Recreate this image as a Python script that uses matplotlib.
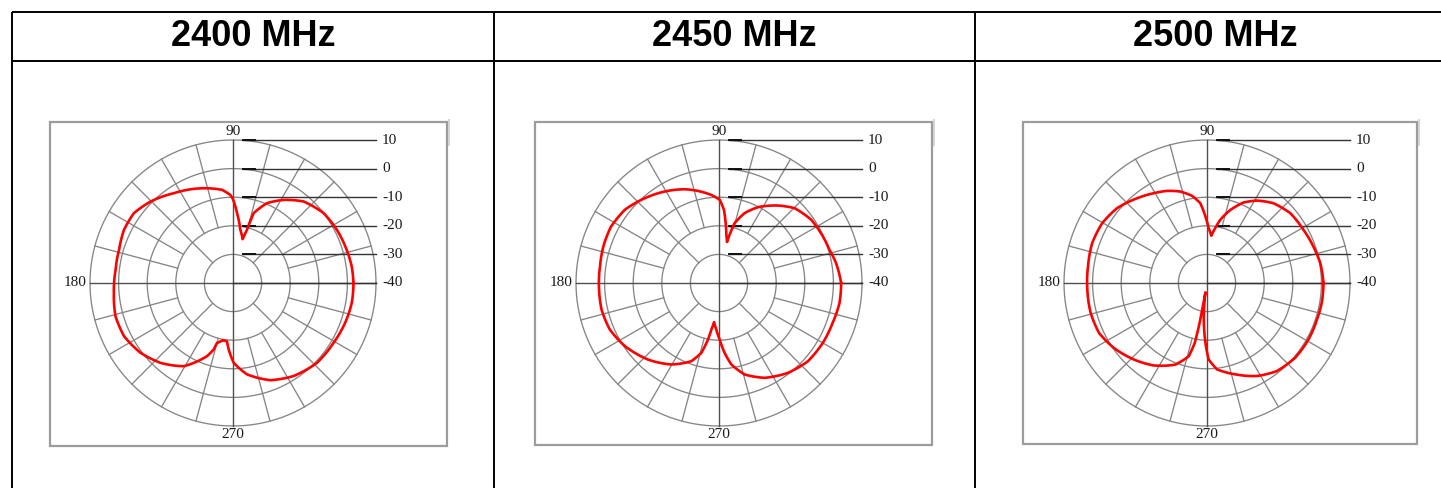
import matplotlib
matplotlib.use('Agg')
import matplotlib.pyplot as plt
import matplotlib.patches as patches
import numpy as np

W, H = 1441, 488

# column headers
freqs = ['2400 MHz', '2450 MHz', '2500 MHz']

# radiation pattern: angle (deg) / gain (dB)
ang_2400 = [0, 8.0, 16.3, 27.1, 37.7, 49.1, 58.7, 67.0, 73.5, 75.3, 77.6, 82.2, 86.7, 90.0,
            91.7, 96.7, 109.0, 123.4, 135.3, 144.8, 154.0, 163.7, 173.5, 184.8, 195.8, 206.0,
            217.1, 227.8, 239.4, 250.5, 253.8, 255.0, 260.1, 264.1, 266.3, 270.5, 278.7,
            291.0, 303.0, 316.4, 329.2, 340.4, 350.5]
gain_2400 = [2.1, 1.9, 1.4, 0.8, 0.0, -2.3, -6.0, -9.7, -14.5, -20.8, -24.3, -21.2, -15.5, -10.7,
             -9.2, -7.2, -5.0, -2.4, 0.5, 2.4, 2.4, 1.5, 1.3, 1.8, 2.7, 2.4,
             0.5, -2.3, -6.2, -12.9, -15.8, -18.3, -19.7, -19.5, -16.7, -12.1, -7.7,
             -3.6, -1.2, 0.5, 0.9, 1.6, 2.1]

ang_2450 = [0, 9.7, 16.8, 24.2, 34.4, 44.7, 52.8, 62.8, 69.9, 75.4, 77.6, 79.0, 81.4, 83.7,
            86.1, 89.5, 95.0, 102.8, 110.1, 120.7, 131.2, 142.1, 152.6, 162.5, 172.0, 183.2,
            192.8, 203.1, 213.9, 227.2, 239.7, 250.5, 255.8, 259.0, 260.7, 262.8, 266.7,
            270.7, 274.6, 278.6, 285.6, 295.7, 307.5, 318.6, 330.0, 340.7, 350.6]
gain_2450 = [2.7, 1.5, 0.3, -0.2, -0.9, -2.8, -6.0, -10.2, -14.0, -18.4, -22.7, -25.4, -22.9, -18.9,
             -14.4, -10.9, -9.1, -7.0, -5.1, -2.8, -0.6, 1.7, 2.6, 2.4, 2.0, 2.0,
             2.1, 1.5, -0.4, -3.5, -7.0, -11.0, -14.8, -19.9, -23.5, -26.2, -23.7,
             -20.2, -15.5, -11.2, -6.8, -3.2, -0.4, 1.4, 1.9, 2.1, 2.7]

ang_2500 = [0, 10.0, 19.0, 28.9, 40.0, 50.2, 58.8, 65.6, 72.3, 78.1, 82.2, 84.8, 88.3, 91.4,
            94.8, 99.7, 106.2, 113.4, 120.7, 129.5, 140.2, 150.3, 160.8, 172.0, 183.2, 194.4,
            204.8, 214.9, 226.3, 237.2, 248.8, 256.0, 258.5, 259.5, 260.0, 260.5, 262.5,
            265.5, 268.5, 271.2, 276.6, 288.1, 298.2, 308.4, 319.7, 330.9, 341.6, 350.1]
gain_2500 = [0.7, 0.2, -0.7, -1.5, -2.0, -3.7, -6.3, -9.1, -13.2, -17.4, -21.2, -23.4, -20.8, -16.7,
             -12.0, -9.1, -6.7, -4.9, -3.5, -1.6, 0.9, 2.2, 2.5, 2.0, 1.9, 2.0,
             1.6, -0.3, -3.0, -5.7, -9.4, -13.6, -18.7, -26.0, -33.0, -36.7, -33.0,
             -26.0, -19.1, -13.3, -9.6, -6.3, -3.1, -0.7, 0.4, 0.6, 0.5, 0.7]

rings = [10, 0, -10, -20, -30]
ring_labels = ['10', '0', '-10', '-20', '-30', '-40']
angle_labels = ['90', '180', '270']

patterns = [(ang_2400, gain_2400), (ang_2450, gain_2450), (ang_2500, gain_2500)]

# layout in pixels
col_x = [12, 494, 975, 1456]
centers_x = [233, 719, 1207]
center_y = 283
R = 143
boxes = [(50, 122, 447, 446), (535, 122, 932, 445), (1023, 122, 1417, 444)]

grid_c = '#858585'
axis_c = '#505050'
lab_font = 'Liberation Serif'


def setting_polar(ax):
    rmin, rmax = -40, 10
    ax.set_ylim(rmin, rmax)
    ax.axis('off')
    t = np.linspace(0, 2 * np.pi, 721)
    for r in rings:
        ax.plot(t, np.full_like(t, r), color=grid_c, lw=0.95, clip_on=False)
    for deg in range(15, 360, 15):
        if deg % 90 == 0:
            continue
        th = np.radians(deg)
        r0 = -30 if deg % 45 == 0 else -20
        ax.plot([th, th], [r0, rmax], color=grid_c, lw=0.95, clip_on=False)
    for deg in [0, 90, 180, 270]:
        th = np.radians(deg)
        ax.plot([th, th], [rmin, rmax], color=axis_c, lw=1.0, clip_on=False)

    # leader lines and dB labels on the right
    px = 1.0 / (2 * R)
    for v, lab in zip(rings + [-40], ring_labels):
        y = 0.5 + 0.5 * (v - rmin) / (rmax - rmin)
        if v != -40:
            ax.plot([0.5 + 10 * px, 1.0], [y, y], color='#333333', lw=1.0,
                    transform=ax.transAxes, clip_on=False)
            ax.plot([0.5 + 10 * px, 0.5 + 22 * px], [y, y], color='#111111', lw=1.4,
                    transform=ax.transAxes, clip_on=False)
        else:
            ax.plot([0.5, 1.0], [y, y], color='#333333', lw=1.0,
                    transform=ax.transAxes, clip_on=False)
        ax.text(1.0 + 6 * px, y, lab, transform=ax.transAxes, ha='left', va='center',
                fontsize=11, family=lab_font, color='#1a1a1a')

    ax.text(0.5, 1.0 + 2 * px, angle_labels[0], transform=ax.transAxes, ha='center',
            va='bottom', fontsize=11, family=lab_font, color='#1a1a1a')
    ax.text(-3 * px, 0.5, angle_labels[1], transform=ax.transAxes, ha='right',
            va='center', fontsize=11, family=lab_font, color='#1a1a1a')
    ax.text(0.5, -2 * px, angle_labels[2], transform=ax.transAxes, ha='center',
            va='top', fontsize=11, family=lab_font, color='#1a1a1a')


fig = plt.figure(figsize=(W / 100, H / 100), dpi=100)

# table + frames in pixel coordinates
ax0 = fig.add_axes([0, 0, 1, 1])
ax0.set_xlim(0, W)
ax0.set_ylim(H, 0)
ax0.axis('off')

for y in [12, 60.5]:
    ax0.plot([col_x[0], W], [y, y], color='black', lw=1.4, solid_capstyle='butt')
for x in col_x[:3]:
    ax0.plot([x, x], [12, H], color='black', lw=1.4, solid_capstyle='butt')

for i, f in enumerate(freqs):
    xc = (col_x[i] + col_x[i + 1]) / 2
    ax0.text(xc, 37, f, ha='center', va='center', fontsize=26, fontweight='bold',
             family='Liberation Sans')

for (x0, y0, x1, y1) in boxes:
    rect = patches.Rectangle((x0, y0), x1 - x0, y1 - y0, fill=False, ec='#9c9c9c', lw=1.6)
    ax0.add_patch(rect)
    ax0.plot([x1 + 2, x1 + 2], [y0 - 2, y0 + 23], color='#d4d4d4', lw=1.4)

for i, (ang, gain) in enumerate(patterns):
    cx = centers_x[i]
    ax = fig.add_axes([(cx - R) / W, (H - center_y - R) / H, 2 * R / W, 2 * R / H],
                      projection='polar')
    setting_polar(ax)
    # close the loop at 360 deg so the last segment does not wrap round
    th = np.radians(np.append(ang, ang[0] + 360))
    g = np.append(gain, gain[0])
    ln, = ax.plot(th, g, color='#ff0000', lw=1.9, clip_on=False, zorder=5)
    # draw segments as polar arcs instead of straight chords
    ln.get_path()._interpolation_steps = 12

fig.savefig('out.png', dpi=100)
